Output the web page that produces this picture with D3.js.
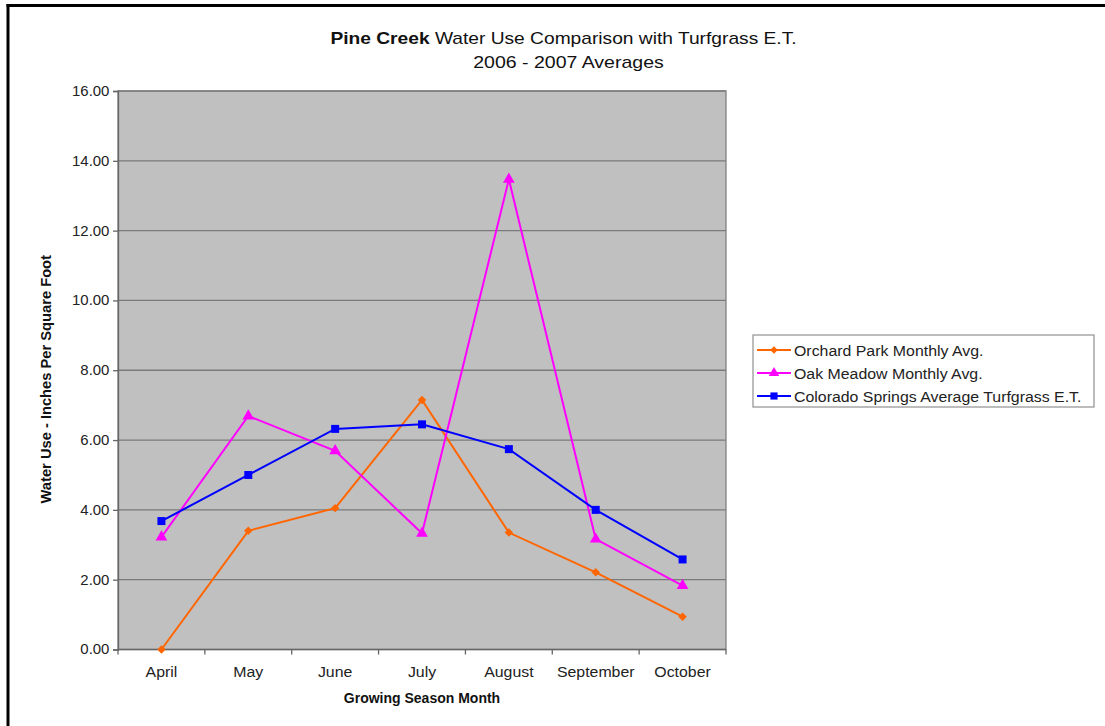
<!DOCTYPE html>
<html>
<head>
<meta charset="utf-8">
<script src="https://cdn.jsdelivr.net/npm/d3@7"></script>
<style>
  html, body { margin: 0; padding: 0; background: #fff; }
  svg { display: block; font-family: Arial, "Liberation Sans", sans-serif; }
</style>
</head>
<body>
<svg id="chart" width="1105" height="726"></svg>
<script>
// Monthly water use, inches per square foot
const months = ["April", "May", "June", "July", "August", "September", "October"];
const orchardPark = [0.00, 3.40, 4.05, 7.15, 3.35, 2.21, 0.94];
const oakMeadow = [3.22, 6.69, 5.69, 3.33, 13.47, 3.16, 1.83];
const coloradoSpringsET = [3.68, 5.00, 6.32, 6.45, 5.74, 4.00, 2.58];
const yTicks = [0, 2, 4, 6, 8, 10, 12, 14, 16];

const seriesNames = ["Orchard Park Monthly Avg.", "Oak Meadow Monthly Avg.", "Colorado Springs Average Turfgrass E.T."];
const seriesColors = ["#ff6600", "#ff00ff", "#0000ff"];
// square symbols; the first one is turned 45° to make a diamond
const seriesShapes = [d3.symbolSquare, d3.symbolTriangle, d3.symbolSquare];
const seriesRotation = [45, 0, 0];
const symSizes = [36, 60, 64];
const seriesValues = [orchardPark, oakMeadow, coloradoSpringsET];

const svg = d3.select("#chart");

// text with a slight horizontal stretch (wide face)
function label(parent, x, y, str, o = {}) {
  const g = parent.append("g").attr("transform",
    `translate(${x},${y})` + (o.rotate ? ` rotate(${o.rotate})` : "") + ` scale(${o.sx || 1},1)`);
  const t = g.append("text").attr("x", 0).attr("y", 0)
    .attr("text-anchor", o.anchor || "start")
    .attr("font-size", o.size || 13)
    .attr("font-weight", o.bold ? "bold" : "normal")
    .attr("fill", o.fill || "#222");
  if (str !== null) t.text(str);
  return t;
}

// outer frame (top and left edges)
svg.append("line").attr("x1", 6.5).attr("x2", 1105).attr("y1", 5.5).attr("y2", 5.5)
  .attr("stroke", "#000").attr("stroke-width", 3);
svg.append("line").attr("x1", 8).attr("x2", 8).attr("y1", 4).attr("y2", 726)
  .attr("stroke", "#000").attr("stroke-width", 3);

const plot = { left: 118, top: 91, right: 726, bottom: 649.5 };

const x = d3.scaleBand().domain(months).range([plot.left, plot.right]).paddingInner(0).paddingOuter(0);
const y = d3.scaleLinear().domain([0, 16]).range([plot.bottom, plot.top]);

// plot background
svg.append("rect")
  .attr("x", plot.left).attr("y", plot.top)
  .attr("width", plot.right - plot.left).attr("height", plot.bottom - plot.top)
  .attr("fill", "#c0c0c0");

// horizontal gridlines
svg.append("g").selectAll("line").data(yTicks.filter(d => d > 0)).join("line")
  .attr("x1", plot.left).attr("x2", plot.right)
  .attr("y1", d => y(d)).attr("y2", d => y(d))
  .attr("stroke", "#7a7a7a").attr("stroke-width", 1.3);

// plot border
svg.append("rect")
  .attr("x", plot.left).attr("y", plot.top)
  .attr("width", plot.right - plot.left).attr("height", plot.bottom - plot.top)
  .attr("fill", "none").attr("stroke", "#808080").attr("stroke-width", 1.3);

// y axis
const yAxis = d3.axisLeft(y).tickValues(yTicks).tickFormat(d3.format(".2f")).tickSize(5).tickPadding(3);
const gy = svg.append("g").attr("transform", `translate(${plot.left},0)`).call(yAxis);
gy.select(".domain").attr("stroke", "#666").attr("stroke-width", 1.3);
gy.selectAll(".tick line").attr("stroke", "#666").attr("stroke-width", 1.3);
gy.selectAll(".tick text").attr("font-size", 14).attr("fill", "#222")
  .attr("font-family", "Arial, 'Liberation Sans', sans-serif")
  .attr("transform", "scale(1.07,1)");

// x axis: tick marks between categories
const gx = svg.append("g").attr("transform", `translate(0,${plot.bottom})`);
gx.append("line").attr("x1", plot.left).attr("x2", plot.right).attr("stroke", "#666").attr("stroke-width", 1.3);
const boundaries = months.map(m => x(m)).concat([x(months[months.length - 1]) + x.bandwidth()]);
gx.selectAll("line.tk").data(boundaries).join("line").attr("class", "tk")
  .attr("x1", d => d).attr("x2", d => d).attr("y1", 0).attr("y2", 5)
  .attr("stroke", "#666").attr("stroke-width", 1.3);
months.forEach(m => {
  label(svg, x(m) + x.bandwidth() / 2, 677, m, { anchor: "middle", size: 15, sx: 1.06 });
});

// axis titles
label(svg, (plot.left + plot.right) / 2, 703, "Growing Season Month",
  { anchor: "middle", size: 14, bold: true, fill: "#111" });
label(svg, 51, (plot.top + plot.bottom) / 2 + 9, "Water Use - Inches Per Square Foot",
  { anchor: "middle", size: 14, bold: true, fill: "#111", rotate: -90, sx: 1.05 });

// title
const title = label(svg, 563.5, 43.5, null, { anchor: "middle", size: 16, sx: 1.2, fill: "#111" });
title.append("tspan").attr("font-weight", "bold").text("Pine Creek");
title.append("tspan").text(" Water Use Comparison with Turfgrass E.T.");
label(svg, 568.5, 67.5, "2006 - 2007 Averages", { anchor: "middle", size: 16, sx: 1.22, fill: "#111" });

// series
const line = d3.line().x((d, i) => x(months[i]) + x.bandwidth() / 2).y(d => y(d));
seriesValues.forEach((vals, k) => {
  const g = svg.append("g");
  g.append("path").datum(vals).attr("d", line)
    .attr("fill", "none").attr("stroke", seriesColors[k]).attr("stroke-width", 2);
  g.selectAll("path.pt").data(vals).join("path").attr("class", "pt")
    .attr("transform", (d, i) =>
      `translate(${x(months[i]) + x.bandwidth() / 2},${y(d)}) rotate(${seriesRotation[k]})`)
    .attr("d", d3.symbol().type(seriesShapes[k]).size(symSizes[k]))
    .attr("fill", seriesColors[k]);
});

// legend
const lg = svg.append("g");
lg.append("rect").attr("x", 753).attr("y", 335).attr("width", 341).attr("height", 72)
  .attr("fill", "#fff").attr("stroke", "#999").attr("stroke-width", 1.3);
seriesNames.forEach((name, k) => {
  const cy = 350 + k * 23;
  lg.append("line").attr("x1", 757).attr("x2", 791).attr("y1", cy).attr("y2", cy)
    .attr("stroke", seriesColors[k]).attr("stroke-width", 2);
  lg.append("path").attr("transform", `translate(774,${cy}) rotate(${seriesRotation[k]})`)
    .attr("d", d3.symbol().type(seriesShapes[k]).size(symSizes[k] * 0.8))
    .attr("fill", seriesColors[k]);
  label(lg, 794, cy + 5.5, name, { size: 15, sx: 1.06 });
});
</script>
</body>
</html>
